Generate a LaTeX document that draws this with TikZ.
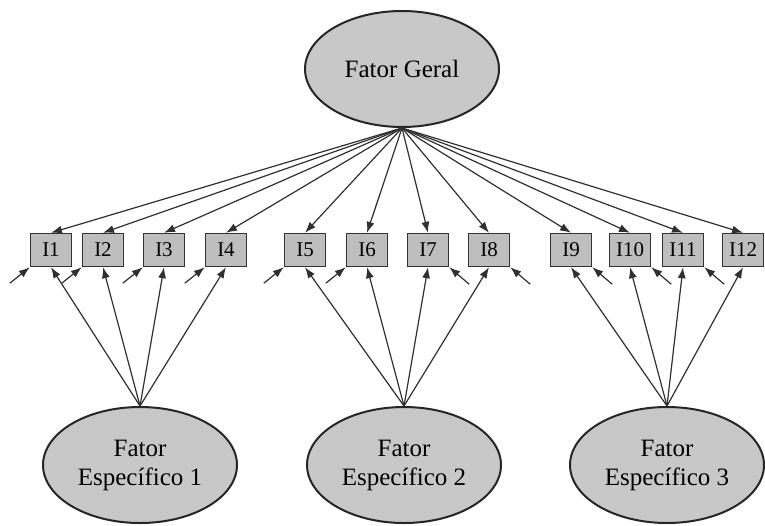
\documentclass[tikz,border=0pt]{standalone}
\usepackage{fontspec}
\setmainfont{Liberation Serif}
\usepackage{xcolor}
\usepackage{tikz}
\usetikzlibrary{arrows.meta,positioning,shapes.geometric}

\definecolor{latentgray}{HTML}{C8C8C8}
\definecolor{itemgray}{HTML}{BEBEBE}
\definecolor{linegray}{HTML}{303030}

\begin{document}
\begin{tikzpicture}[
  x=0.5pt, y=-0.5pt,
  latent/.style={draw=black!85, line width=1pt, fill=latentgray, ellipse,
    minimum width=97pt, minimum height=58pt, inner sep=0pt, align=center,
    font=\fontsize{12.5}{14.5}\selectfont},
  item/.style={draw=black!80, line width=0.7pt, fill=itemgray,
    minimum width=20.5pt, minimum height=16.5pt, inner sep=0pt,
    font=\fontsize{10.5}{12}\selectfont},
  flow/.style={-{Latex[length=5.5pt, width=4pt]}, draw=linegray, line width=0.6pt},
  errl/.style={below left=8pt and 10pt of #1},
  errr/.style={below right=8.5pt and 10pt of #1}
]
  \useasboundingbox (0,0) rectangle (765,525);

  % general factor
  \node[latent] (geral) at (402,69) {Fator Geral};

  % items
  \node[item] (i1)  at (51,250)  {I1};
  \node[item] (i2)  at (103,250) {I2};
  \node[item] (i3)  at (164,250) {I3};
  \node[item] (i4)  at (226,250) {I4};
  \node[item] (i5)  at (305,250) {I5};
  \node[item] (i6)  at (367,250) {I6};
  \node[item] (i7)  at (428,250) {I7};
  \node[item] (i8)  at (489,250) {I8};
  \node[item] (i9)  at (571,250) {I9};
  \node[item] (i10) at (630,250) {I10};
  \node[item] (i11) at (683,250) {I11};
  \node[item] (i12) at (743,250) {I12};

  % specific factors
  \node[latent] (esp1) at (140,465) {Fator\\Específico 1};
  \node[latent] (esp2) at (404,465) {Fator\\Específico 2};
  \node[latent] (esp3) at (667,465) {Fator\\Específico 3};

  % loadings on the general factor
  \draw[flow] (geral.south) -- (i1.north);
  \draw[flow] (geral.south) -- (i2.north);
  \draw[flow] (geral.south) -- (i3.north);
  \draw[flow] (geral.south) -- (i4.north);
  \draw[flow] (geral.south) -- (i5.north);
  \draw[flow] (geral.south) -- (i6.north);
  \draw[flow] (geral.south) -- (i7.north);
  \draw[flow] (geral.south) -- (i8.north);
  \draw[flow] (geral.south) -- (i9.north);
  \draw[flow] (geral.south) -- (i10.north);
  \draw[flow] (geral.south) -- (i11.north);
  \draw[flow] (geral.south) -- (i12.north);

  % loadings on the specific factors
  \draw[flow] (esp1.north) -- (i1.south);
  \draw[flow] (esp1.north) -- (i2.south);
  \draw[flow] (esp1.north) -- (i3.south);
  \draw[flow] (esp1.north) -- (i4.south);
  \draw[flow] (esp2.north) -- (i5.south);
  \draw[flow] (esp2.north) -- (i6.south);
  \draw[flow] (esp2.north) -- (i7.south);
  \draw[flow] (esp2.north) -- (i8.south);
  \draw[flow] (esp3.north) -- (i9.south);
  \draw[flow] (esp3.north) -- (i10.south);
  \draw[flow] (esp3.north) -- (i11.south);
  \draw[flow] (esp3.north) -- (i12.south);

  % residuals
  \coordinate[errl=i1.south west] (e1);
  \coordinate[errl=i2.south west] (e2);
  \coordinate[errl=i3.south west] (e3);
  \coordinate[errl=i4.south west] (e4);
  \coordinate[errl=i5.south west] (e5);
  \coordinate[errl=i6.south west] (e6);
  \coordinate[errr=i7.south east] (e7);
  \coordinate[errr=i8.south east] (e8);
  \coordinate[errr=i9.south east] (e9);
  \coordinate[errr=i10.south east] (e10);
  \coordinate[errr=i11.south east] (e11);
  \coordinate[errr=i12.south east] (e12);
  \draw[flow] (e1) -- (i1.south west);
  \draw[flow] (e2) -- (i2.south west);
  \draw[flow] (e3) -- (i3.south west);
  \draw[flow] (e4) -- (i4.south west);
  \draw[flow] (e5) -- (i5.south west);
  \draw[flow] (e6) -- (i6.south west);
  \draw[flow] (e7) -- (i7.south east);
  \draw[flow] (e8) -- (i8.south east);
  \draw[flow] (e9) -- (i9.south east);
  \draw[flow] (e10) -- (i10.south east);
  \draw[flow] (e11) -- (i11.south east);
  \draw[flow] (e12) -- (i12.south east);
\end{tikzpicture}
\end{document}
